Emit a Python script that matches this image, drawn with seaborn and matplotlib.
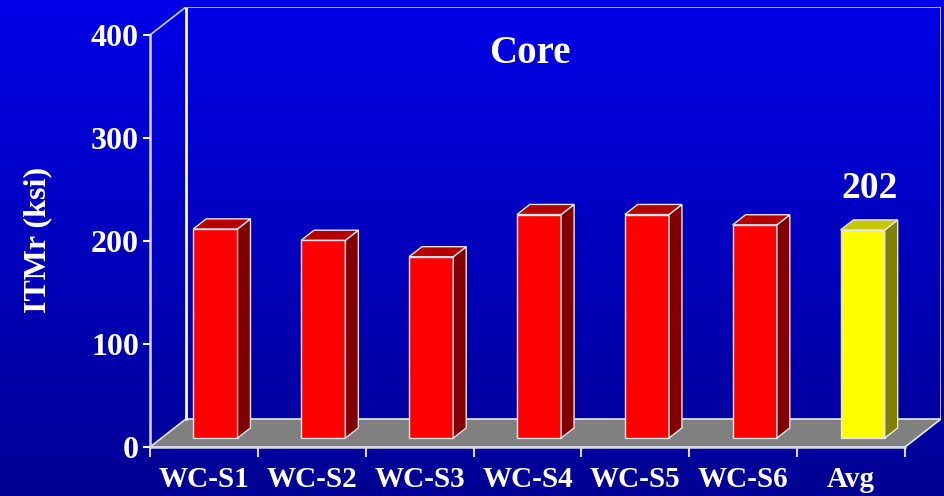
import numpy as np
import matplotlib
matplotlib.use("Agg")
import matplotlib.pyplot as plt
from matplotlib.patches import Polygon, Rectangle
import seaborn as sns

# ITMr of the core samples and their average
categories = ["WC-S1", "WC-S2", "WC-S3", "WC-S4", "WC-S5", "WC-S6", "Avg"]
values = [203, 192, 176, 217, 217, 207, 202]
y_ticks = [0, 100, 200, 300, 400]
title = "Core"
y_label = "ITMr (ksi)"

sns.set_theme(style="white")
plt.rcParams["font.family"] = ["Liberation Serif", "DejaVu Serif"]
plt.rcParams["font.weight"] = "bold"

W, H = 944, 496
fig = plt.figure(figsize=(W / 100, H / 100), dpi=100)

# blue vertical gradient background
bg = fig.add_axes([0, 0, 1, 1], zorder=-10)
grad = np.linspace(0, 1, 256).reshape(-1, 1)
top_c = np.array([0.0, 0.0, 0.91])
bot_c = np.array([0.0, 0.0, 0.58])
img = top_c[None, None, :] * (1 - grad[..., None]) + bot_c[None, None, :] * grad[..., None]
bg.imshow(img, aspect="auto", extent=[0, 1, 0, 1])
bg.set_axis_off()

# oblique depth of the box in data units
DX, DY = 0.333, 27.2
x0, x1 = -0.5, 6.5
ymax = 400

ax = fig.add_axes([150 / W, (H - 447) / H, (941 - 150) / W, 440 / H])
ax.set_facecolor("none")

edge = "#e6e6f0"
palette = ["#ff0000"] * (len(categories) - 1) + ["#ffff00"]
sns.barplot(x=categories, y=values, hue=categories, palette=palette, legend=False,
            width=0.41, edgecolor=edge, linewidth=1.0, saturation=1, ax=ax, zorder=3)
bars = [p for p in ax.patches if isinstance(p, Rectangle)]

ax.set_xlim(x0, x1 + DX)
ax.set_ylim(0, ymax + DY)

# floor
floor = Polygon([(x0, 0), (x1, 0), (x1 + DX, DY), (x0 + DX, DY)], closed=True,
                facecolor="#808080", edgecolor=edge, linewidth=1.2, zorder=1)
ax.add_patch(floor)
# back wall and side edges
ax.plot([x0 + DX, x0 + DX], [DY, ymax + DY], color="white", lw=2, zorder=1.5)
ax.plot([x0 + DX, x1 + DX], [ymax + DY, ymax + DY], color="#c8c8ff", lw=1.2, zorder=1.5)
ax.plot([x1 + DX, x1 + DX], [DY, ymax + DY], color="#d0d0ff", lw=1.2, zorder=1.5)
ax.plot([x0, x0 + DX], [ymax, ymax + DY], color="#d0d0ff", lw=1.2, zorder=1.5)

# turn each flat bar into a prism sitting in the middle of the floor depth
f_front, f_depth = 0.32, 0.36
bx, by = f_front * DX, f_front * DY
ddx, ddy = f_depth * DX, f_depth * DY
top_cols = {"r": "#b80000", "y": "#c8c800"}
side_cols = {"r": "#800000", "y": "#808000"}
for i, p in enumerate(bars):
    px, w, h = p.get_x(), p.get_width(), p.get_height()
    p.set_x(px + bx)
    p.set_y(by)
    key = "y" if categories[i] == "Avg" else "r"
    L, R, B, T = px + bx, px + bx + w, by, by + h
    side = Polygon([(R, B), (R + ddx, B + ddy), (R + ddx, T + ddy), (R, T)], closed=True,
                   facecolor=side_cols[key], edgecolor=edge, linewidth=1.0, zorder=3)
    top = Polygon([(L, T), (R, T), (R + ddx, T + ddy), (L + ddx, T + ddy)], closed=True,
                  facecolor=top_cols[key], edgecolor=edge, linewidth=1.0, zorder=3)
    ax.add_patch(side)
    ax.add_patch(top)
    if categories[i] == "Avg":
        ax.text(L + w / 2 + ddx / 2, T + 40, f"{values[i]:.0f}", ha="center", va="center",
                color="white", fontsize=27, fontweight="bold")

ax.set_xlabel("")
ax.set_ylabel(y_label, color="white", fontsize=23, fontweight="bold")
ax.yaxis.set_label_coords(-0.124, 0.47)

# axes lines on the front plane
for s in ["top", "right"]:
    ax.spines[s].set_visible(False)
for s in ["left", "bottom"]:
    ax.spines[s].set_visible(True)
    ax.spines[s].set_color("#d8d8e8")
    ax.spines[s].set_linewidth(1.8)
ax.spines["left"].set_bounds(0, ymax)
ax.spines["bottom"].set_bounds(x0, x1)

ax.set_yticks(y_ticks)
ax.set_yticklabels([str(t) for t in y_ticks])
ax.tick_params(axis="y", colors="white", length=5, width=1.5, pad=3, labelsize=23, left=True)
for lab in ax.get_yticklabels():
    lab.set_fontweight("bold")

ax.set_xticks(range(len(categories)))
ax.set_xticklabels(categories)
ax.tick_params(axis="x", which="major", length=0, pad=14, labelsize=21, colors="white")
for lab in ax.get_xticklabels():
    lab.set_fontweight("bold")
ax.set_xticks(np.arange(x0, x1 + 0.01, 1.0), minor=True)
ax.tick_params(axis="x", which="minor", length=7, width=1.5, color="#d8d8e8", bottom=True)

ax.text(3.02, 382, title, ha="center", va="center", color="white", fontsize=28,
        fontweight="bold")

fig.savefig("out.png", dpi=100)
